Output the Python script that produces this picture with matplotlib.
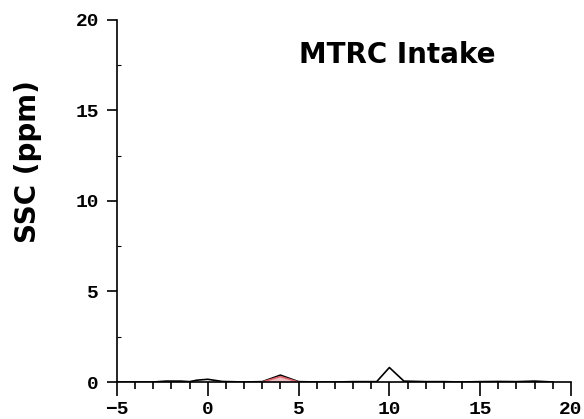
import numpy as np
import matplotlib.pyplot as plt
from matplotlib.ticker import MultipleLocator

# SSC series
x_black = [-5, -4, -3, -2.3, -1.5, -1, -0.6, 0, 0.8, 2, 3, 4, 5, 6, 7, 8, 9.3, 10, 10.8, 12, 13, 14, 15, 16, 17, 18, 19]
y_black = [0, 0, 0, 0.05, 0.05, 0.02, 0.1, 0.15, 0.03, 0, 0.02, 0.38, 0.02, 0, 0, 0.02, 0.02, 0.8, 0.05, 0.02, 0.02, 0, 0.02, 0.03, 0.02, 0.05, 0]
x_red = [3, 4, 5]
y_red = [0, 0.3, 0]

plt.figure(figsize=(5.84, 4.19), dpi=100)
ax = plt.axes([0.2003, 0.0883, 0.7774, 0.8640])

ax.plot(x_black, y_black, color='black', linewidth=1.2)
ax.plot(x_red, y_red, color='#d9606a', linewidth=1.2)
ax.fill_between(x_red, y_red, color='#d9606a', alpha=0.4, linewidth=0)

ax.set_xlim(-5, 20)
ax.set_ylim(0, 20)
ax.spines['top'].set_visible(False)
ax.spines['right'].set_visible(False)
ax.spines['left'].set_linewidth(1.2)
ax.spines['bottom'].set_linewidth(1.2)

ax.xaxis.set_major_locator(MultipleLocator(5))
ax.xaxis.set_minor_locator(MultipleLocator(1))
ax.yaxis.set_major_locator(MultipleLocator(5))
ax.yaxis.set_minor_locator(MultipleLocator(2.5))
ax.tick_params(axis='x', which='major', direction='out', length=10, width=1.2, pad=4)
ax.tick_params(axis='x', which='minor', direction='out', length=5, width=1.2)
ax.tick_params(axis='y', which='major', direction='out', length=7, width=1.2, pad=6)
ax.tick_params(axis='y', which='minor', direction='in', length=3, width=0.8)

for lab in ax.get_xticklabels() + ax.get_yticklabels():
    lab.set_fontfamily('Liberation Mono')
    lab.set_fontweight('bold')
    lab.set_fontsize(14)

ax.set_ylabel('SSC (ppm)', fontsize=20, fontweight='bold')
ax.yaxis.set_label_coords(-0.165, 0.61)
ax.text(10.42, 18.04, 'MTRC Intake', fontsize=20, fontweight='bold',
        ha='center', va='center')

plt.savefig('out.png', dpi=100)
